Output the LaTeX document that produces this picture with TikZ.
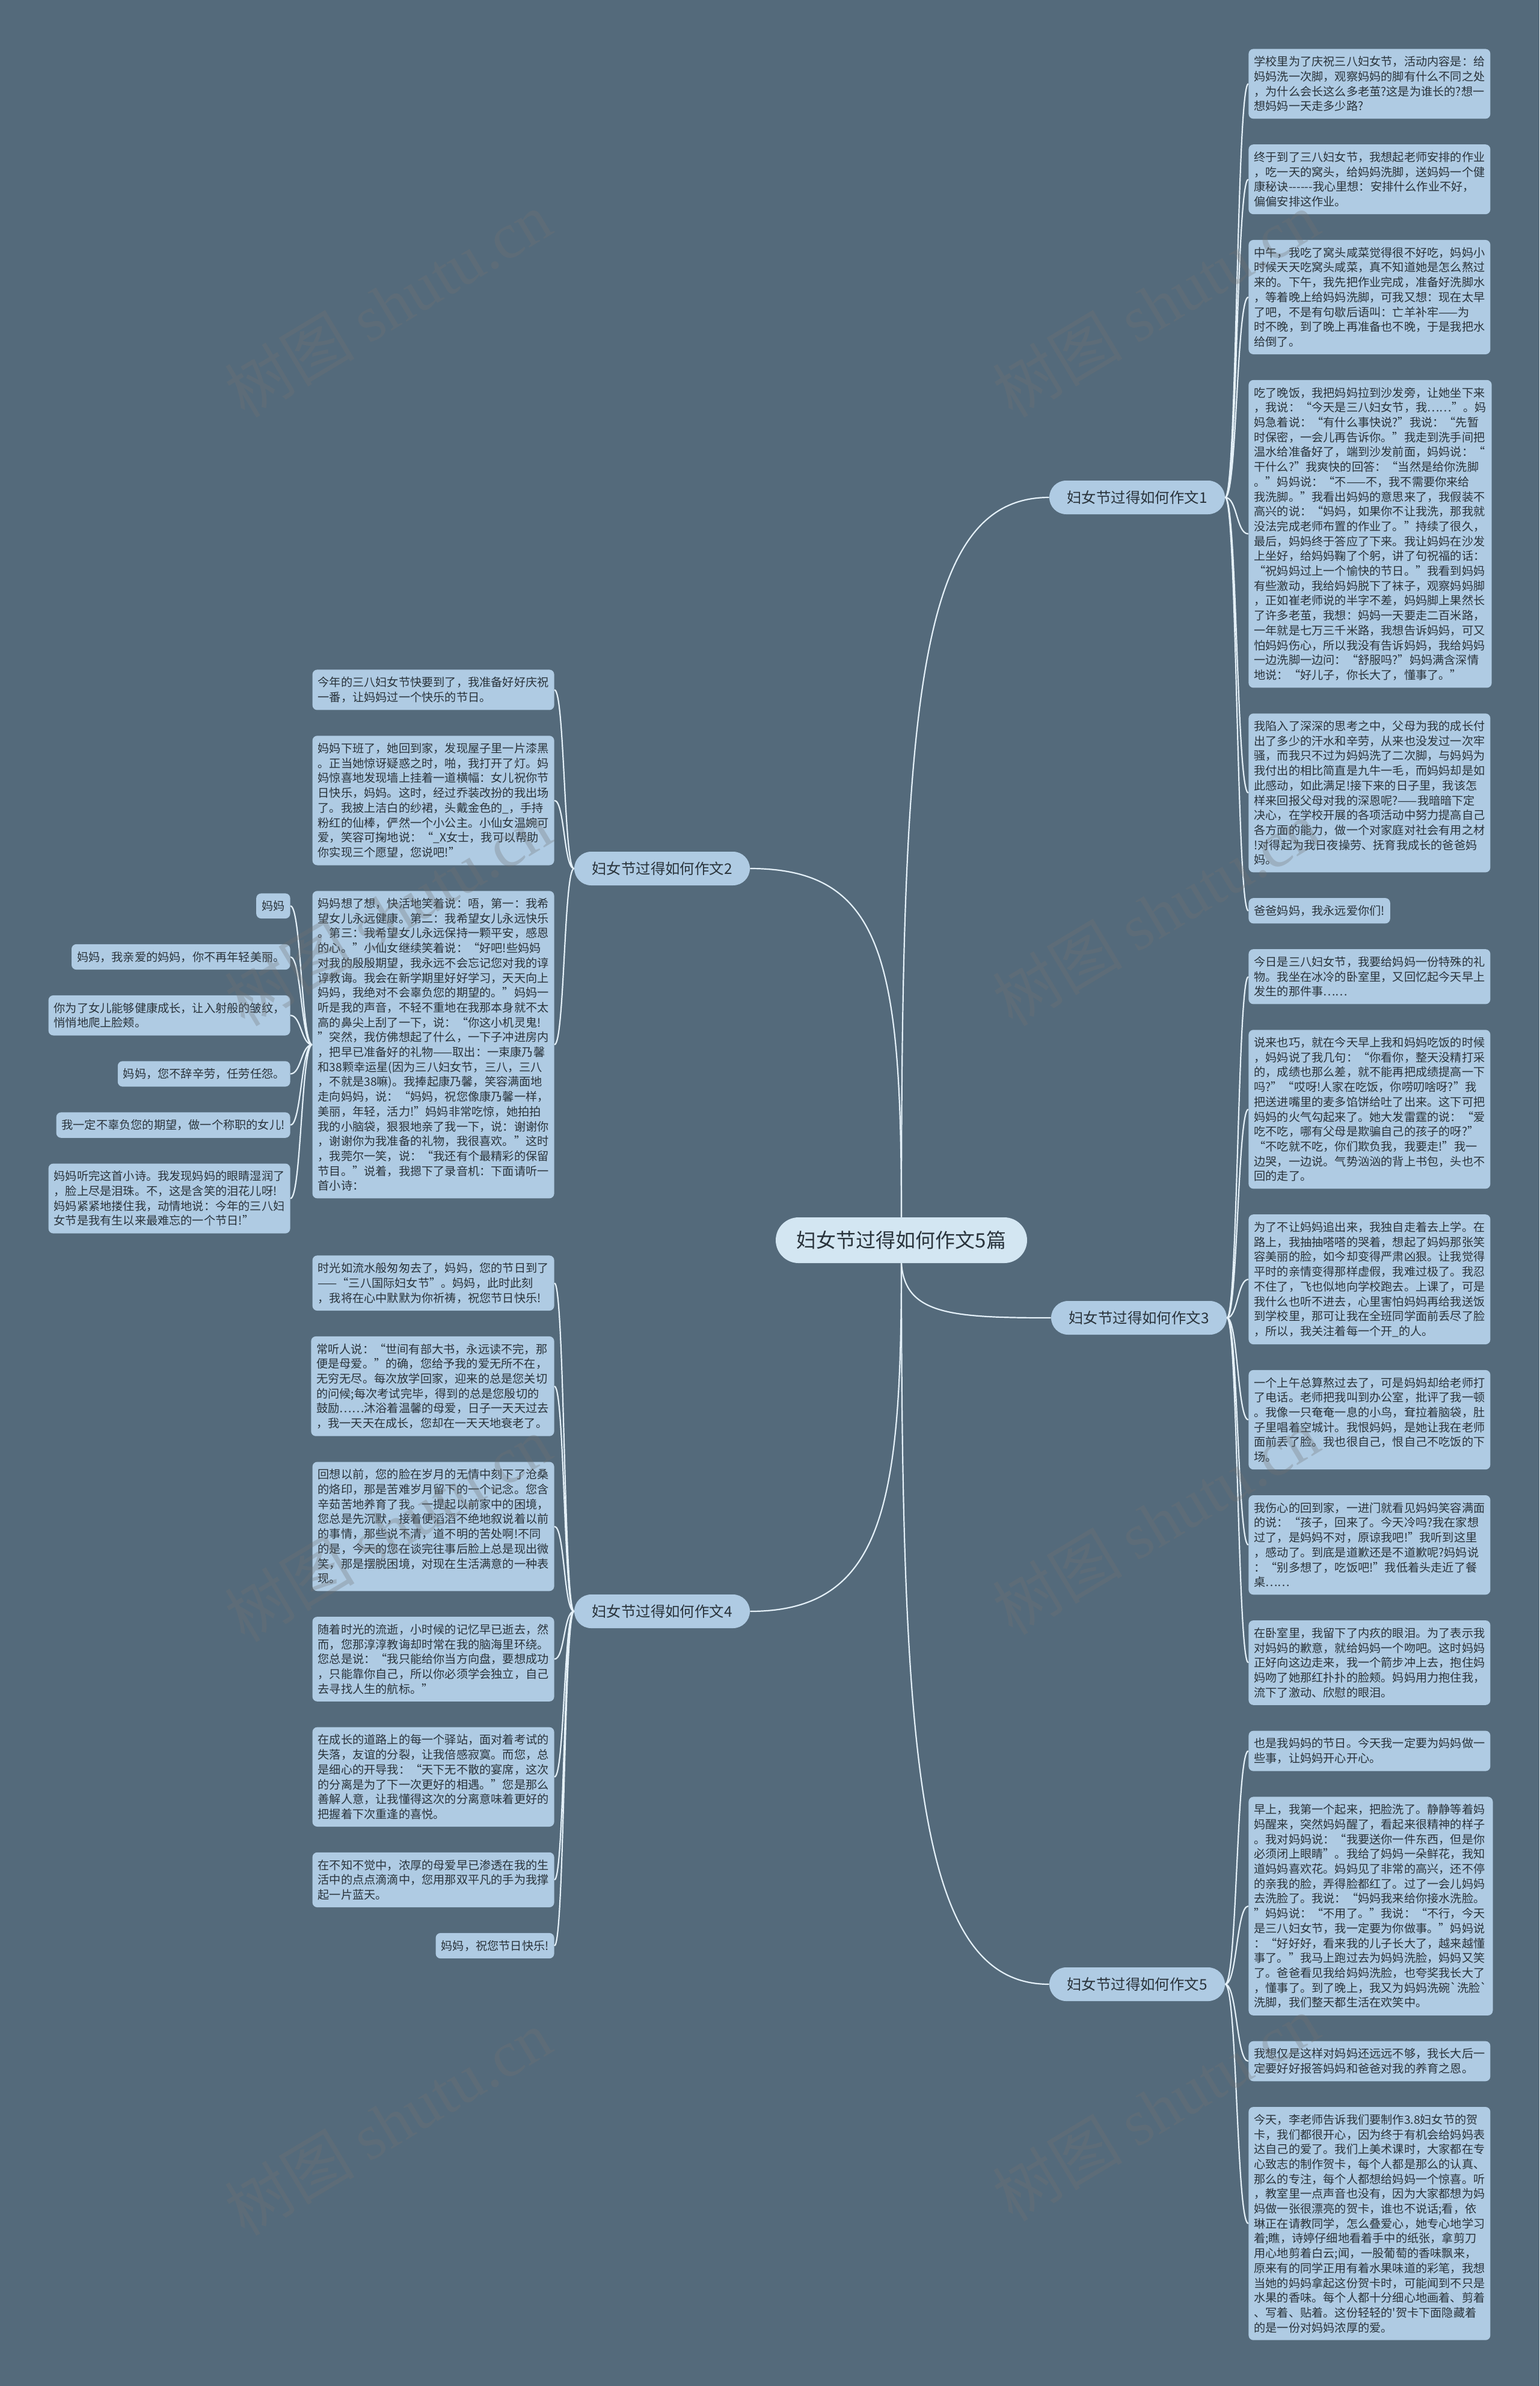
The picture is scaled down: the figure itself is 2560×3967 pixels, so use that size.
\documentclass[tikz,border=0pt]{standalone}
\usepackage{fontspec}
\setmainfont{Noto Sans CJK SC}[Ligatures=TeXOff]
\newfontfamily\wmlatin{Liberation Serif}
\usetikzlibrary{positioning}
\definecolor{slate}{HTML}{546A7B}
\definecolor{leafblue}{HTML}{AFCBE3}
\definecolor{coreblue}{HTML}{D3E6F2}
\definecolor{ink}{HTML}{29333B}
\definecolor{wirecol}{HTML}{E4F0F8}

\begin{document}
\begin{tikzpicture}[x=0.5pt,y=-0.5pt,node distance=21pt,
    leaf/.style={fill=leafblue,rounded corners=4pt,align=left,inner xsep=4.5pt,inner ysep=6pt,text=ink,font=\fontsize{9.6pt}{12.35pt}\selectfont},
    leafr/.style={leaf,anchor=north west},
    leafl/.style={leaf,anchor=north east},
    rnext/.style={below=of #1.south west,anchor=north west},
    lnext/.style={below=of #1.south east,anchor=north east},
    topic/.style={fill=leafblue,rounded corners=14pt,minimum width=146pt,minimum height=28pt,text=ink,font=\fontsize{12.2pt}{14pt}\selectfont},
    hub/.style={fill=coreblue,rounded corners=19pt,minimum width=209pt,minimum height=38pt,text=ink,font=\fontsize{16.5pt}{19pt}\selectfont},
    link/.style={draw=wirecol,line width=1.1pt},
    twig/.style={to path={.. controls +(#1,0) and +(-#1,0) .. (\tikztotarget)}},
    wmtext/.style={rotate=31,text=black!55,text opacity=0.3,font=\fontsize{54pt}{60pt}\selectfont}]
  \useasboundingbox (0,0) rectangle (2560,3967);
  \fill[slate] (0,0) rectangle (2560,3967);

  % centre and the five essays
  \node[hub] (c) at (1499,2062) {妇女节过得如何作文5篇};
  \node[topic] (b1) at (1891,827) {妇女节过得如何作文1};
  \node[topic] (b2) at (1101,1444) {妇女节过得如何作文2};
  \node[topic] (b3) at (1894,2191) {妇女节过得如何作文3};
  \node[topic] (b4) at (1101,2679) {妇女节过得如何作文4};
  \node[topic] (b5) at (1891,3299) {妇女节过得如何作文5};

  % essay 1
  \node[leafr] (r1a) at (2076,81) {学校里为了庆祝三八妇女节，活动内容是：给\\妈妈洗一次脚，观察妈妈的脚有什么不同之处\\，为什么会长这么多老茧?这是为谁长的?想一\\想妈妈一天走多少路?};
  \node[leaf,rnext=r1a] (r1b) {终于到了三八妇女节，我想起老师安排的作业\\，吃一天的窝头，给妈妈洗脚，送妈妈一个健\\康秘诀------我心里想：安排什么作业不好，\\偏偏安排这作业。};
  \node[leaf,rnext=r1b] (r1c) {中午，我吃了窝头咸菜觉得很不好吃，妈妈小\\时候天天吃窝头咸菜，真不知道她是怎么熬过\\来的。下午，我先把作业完成，准备好洗脚水\\，等着晚上给妈妈洗脚，可我又想：现在太早\\了吧，不是有句歇后语叫：亡羊补牢——为\\时不晚，到了晚上再准备也不晚，于是我把水\\给倒了。};
  \node[leaf,rnext=r1c] (r1d) {吃了晚饭，我把妈妈拉到沙发旁，让她坐下来\\，我说：“今天是三八妇女节，我……”。妈\\妈急着说：“有什么事快说?”我说：“先暂\\时保密，一会儿再告诉你。”我走到洗手间把\\温水给准备好了，端到沙发前面，妈妈说：“\\干什么?”我爽快的回答：“当然是给你洗脚\\。”妈妈说：“不——不，我不需要你来给\\我洗脚。”我看出妈妈的意思来了，我假装不\\高兴的说：“妈妈，如果你不让我洗，那我就\\没法完成老师布置的作业了。”持续了很久，\\最后，妈妈终于答应了下来。我让妈妈在沙发\\上坐好，给妈妈鞠了个躬，讲了句祝福的话：\\“祝妈妈过上一个愉快的节日。”我看到妈妈\\有些激动，我给妈妈脱下了袜子，观察妈妈脚\\，正如崔老师说的半字不差，妈妈脚上果然长\\了许多老茧，我想：妈妈一天要走二百米路，\\一年就是七万三千米路，我想告诉妈妈，可又\\怕妈妈伤心，所以我没有告诉妈妈，我给妈妈\\一边洗脚一边问：“舒服吗?”妈妈满含深情\\地说：“好儿子，你长大了，懂事了。”};
  \node[leaf,rnext=r1d] (r1e) {我陷入了深深的思考之中，父母为我的成长付\\出了多少的汗水和辛劳，从来也没发过一次牢\\骚，而我只不过为妈妈洗了二次脚，与妈妈为\\我付出的相比简直是九牛一毛，而妈妈却是如\\此感动，如此满足!接下来的日子里，我该怎\\样来回报父母对我的深恩呢?——我暗暗下定\\决心，在学校开展的各项活动中努力提高自己\\各方面的能力，做一个对家庭对社会有用之材\\!对得起为我日夜操劳、抚育我成长的爸爸妈\\妈。};
  \node[leaf,rnext=r1e] (r1f) {爸爸妈妈，我永远爱你们!};

  % essay 3
  \node[leaf,rnext=r1f] (r3a) {今日是三八妇女节，我要给妈妈一份特殊的礼\\物。我坐在冰冷的卧室里，又回忆起今天早上\\发生的那件事……};
  \node[leaf,rnext=r3a] (r3b) {说来也巧，就在今天早上我和妈妈吃饭的时候\\，妈妈说了我几句：“你看你，整天没精打采\\的，成绩也那么差，就不能再把成绩提高一下\\吗?”“哎呀!人家在吃饭，你唠叨啥呀?”我\\把送进嘴里的麦多馅饼给吐了出来。这下可把\\妈妈的火气勾起来了。她大发雷霆的说：“爱\\吃不吃，哪有父母是欺骗自己的孩子的呀?”\\“不吃就不吃，你们欺负我，我要走!”我一\\边哭，一边说。气势汹汹的背上书包，头也不\\回的走了。};
  \node[leaf,rnext=r3b] (r3c) {为了不让妈妈追出来，我独自走着去上学。在\\路上，我抽抽嗒嗒的哭着，想起了妈妈那张笑\\容美丽的脸，如今却变得严肃凶狠。让我觉得\\平时的亲情变得那样虚假，我难过极了。我忍\\不住了，飞也似地向学校跑去。上课了，可是\\我什么也听不进去，心里害怕妈妈再给我送饭\\到学校里，那可让我在全班同学面前丢尽了脸\\，所以，我关注着每一个开\_的人。};
  \node[leaf,rnext=r3c] (r3d) {一个上午总算熬过去了，可是妈妈却给老师打\\了电话。老师把我叫到办公室，批评了我一顿\\。我像一只奄奄一息的小鸟，耷拉着脑袋，肚\\子里唱着空城计。我恨妈妈，是她让我在老师\\面前丢了脸。我也很自己，恨自己不吃饭的下\\场。};
  \node[leaf,rnext=r3d] (r3e) {我伤心的回到家，一进门就看见妈妈笑容满面\\的说：“孩子，回来了。今天冷吗?我在家想\\过了，是妈妈不对，原谅我吧!”我听到这里\\，感动了。到底是道歉还是不道歉呢?妈妈说\\：“别多想了，吃饭吧!”我低着头走近了餐\\桌……};
  \node[leaf,rnext=r3e] (r3f) {在卧室里，我留下了内疚的眼泪。为了表示我\\对妈妈的歉意，就给妈妈一个吻吧。这时妈妈\\正好向这边走来，我一个箭步冲上去，抱住妈\\妈吻了她那红扑扑的脸颊。妈妈用力抱住我，\\流下了激动、欣慰的眼泪。};

  % essay 5
  \node[leaf,rnext=r3f] (r5a) {也是我妈妈的节日。今天我一定要为妈妈做一\\些事，让妈妈开心开心。};
  \node[leaf,rnext=r5a] (r5b) {早上，我第一个起来，把脸洗了。静静等着妈\\妈醒来，突然妈妈醒了，看起来很精神的样子\\。我对妈妈说：“我要送你一件东西，但是你\\必须闭上眼睛”。我给了妈妈一朵鲜花，我知\\道妈妈喜欢花。妈妈见了非常的高兴，还不停\\的亲我的脸，弄得脸都红了。过了一会儿妈妈\\去洗脸了。我说：“妈妈我来给你接水洗脸。\\”妈妈说：“不用了。”我说：“不行，今天\\是三八妇女节，我一定要为你做事。”妈妈说\\：“好好好，看来我的儿子长大了，越来越懂\\事了。”我马上跑过去为妈妈洗脸，妈妈又笑\\了。爸爸看见我给妈妈洗脸，也夸奖我长大了\\，懂事了。到了晚上，我又为妈妈洗碗`洗脸`\\洗脚，我们整天都生活在欢笑中。};
  \node[leaf,rnext=r5b] (r5c) {我想仅是这样对妈妈还远远不够，我长大后一\\定要好好报答妈妈和爸爸对我的养育之恩。};
  \node[leaf,rnext=r5c] (r5d) {今天，李老师告诉我们要制作3.8妇女节的贺\\卡，我们都很开心，因为终于有机会给妈妈表\\达自己的爱了。我们上美术课时，大家都在专\\心致志的制作贺卡，每个人都是那么的认真、\\那么的专注，每个人都想给妈妈一个惊喜。听\\，教室里一点声音也没有，因为大家都想为妈\\妈做一张很漂亮的贺卡，谁也不说话;看，依\\琳正在请教同学，怎么叠爱心，她专心地学习\\着;瞧，诗婷仔细地看着手中的纸张，拿剪刀\\用心地剪着白云;闻，一股葡萄的香味飘来，\\原来有的同学正用有着水果味道的彩笔，我想\\当她的妈妈拿起这份贺卡时，可能闻到不只是\\水果的香味。每个人都十分细心地画着、剪着\\、写着、贴着。这份轻轻的'贺卡下面隐藏着\\的是一份对妈妈浓厚的爱。};

  % essay 2
  \node[leafl] (l2a) at (922,1113) {今年的三八妇女节快要到了，我准备好好庆祝\\一番，让妈妈过一个快乐的节日。};
  \node[leaf,lnext=l2a] (l2b) {妈妈下班了，她回到家，发现屋子里一片漆黑\\。正当她惊讶疑惑之时，啪，我打开了灯。妈\\妈惊喜地发现墙上挂着一道横幅：女儿祝你节\\日快乐，妈妈。这时，经过乔装改扮的我出场\\了。我披上洁白的纱裙，头戴金色的\_，手持\\粉红的仙棒，俨然一个小公主。小仙女温婉可\\爱，笑容可掬地说：“\_X女士，我可以帮助\\你实现三个愿望，您说吧!”};
  \node[leaf,lnext=l2b] (l2c) {妈妈想了想，快活地笑着说：唔，第一：我希\\望女儿永远健康。第二：我希望女儿永远快乐\\。第三：我希望女儿永远保持一颗平安，感恩\\的心。”小仙女继续笑着说：“好吧!些妈妈\\对我的殷殷期望，我永远不会忘记您对我的谆\\谆教诲。我会在新学期里好好学习，天天向上\\妈妈，我绝对不会辜负您的期望的。”妈妈一\\听是我的声音，不轻不重地在我那本身就不太\\高的鼻尖上刮了一下，说：“你这小机灵鬼!\\”突然，我仿佛想起了什么，一下子冲进房内\\，把早已准备好的礼物——取出：一束康乃馨\\和38颗幸运星(因为三八妇女节，三八，三八\\，不就是38嘛)。我捧起康乃馨，笑容满面地\\走向妈妈，说：“妈妈，祝您像康乃馨一样，\\美丽，年轻，活力!”妈妈非常吃惊，她拍拍\\我的小脑袋，狠狠地亲了我一下，说：谢谢你\\，谢谢你为我准备的礼物，我很喜欢。”这时\\，我莞尔一笑，说：“我还有个最精彩的保留\\节目。”说着，我摁下了录音机：下面请听一\\首小诗：};

  % the little poem
  \node[leafl] (f1) at (483,1485) {妈妈};
  \node[leaf,lnext=f1] (f2) {妈妈，我亲爱的妈妈，你不再年轻美丽。};
  \node[leaf,lnext=f2] (f3) {你为了女儿能够健康成长，让入射般的皱纹，\\悄悄地爬上脸颊。};
  \node[leaf,lnext=f3] (f4) {妈妈，您不辞辛劳，任劳任怨。};
  \node[leaf,lnext=f4] (f5) {我一定不辜负您的期望，做一个称职的女儿!};
  \node[leaf,lnext=f5] (f6) {妈妈听完这首小诗。我发现妈妈的眼睛湿润了\\，脸上尽是泪珠。不，这是含笑的泪花儿呀!\\妈妈紧紧地搂住我，动情地说：今年的三八妇\\女节是我有生以来最难忘的一个节日!”};

  % essay 4
  \node[leafl] (l4a) at (922,2087) {时光如流水般匆匆去了，妈妈，您的节日到了\\——“三八国际妇女节”。妈妈，此时此刻\\，我将在心中默默为你祈祷，祝您节日快乐!};
  \node[leaf,lnext=l4a] (l4b) {常听人说：“世间有部大书，永远读不完，那\\便是母爱。”的确，您给予我的爱无所不在，\\无穷无尽。每次放学回家，迎来的总是您关切\\的问候;每次考试完毕，得到的总是您殷切的\\鼓励……沐浴着温馨的母爱，日子一天天过去\\，我一天天在成长，您却在一天天地衰老了。};
  \node[leaf,lnext=l4b] (l4c) {回想以前，您的脸在岁月的无情中刻下了沧桑\\的烙印，那是苦难岁月留下的一个记念。您含\\辛茹苦地养育了我。一提起以前家中的困境，\\您总是先沉默，接着便滔滔不绝地叙说着以前\\的事情，那些说不清，道不明的苦处啊!不同\\的是，今天的您在谈完往事后脸上总是现出微\\笑，那是摆脱困境，对现在生活满意的一种表\\现。};
  \node[leaf,lnext=l4c] (l4d) {随着时光的流逝，小时候的记忆早已逝去，然\\而，您那淳淳教诲却时常在我的脑海里环绕。\\您总是说：“我只能给你当方向盘，要想成功\\，只能靠你自己，所以你必须学会独立，自己\\去寻找人生的航标。”};
  \node[leaf,lnext=l4d] (l4e) {在成长的道路上的每一个驿站，面对着考试的\\失落，友谊的分裂，让我倍感寂寞。而您，总\\是细心的开导我：“天下无不散的宴席，这次\\的分离是为了下一次更好的相遇。”您是那么\\善解人意，让我懂得这次的分离意味着更好的\\把握着下次重逢的喜悦。};
  \node[leaf,lnext=l4e] (l4f) {在不知不觉中，浓厚的母爱早已渗透在我的生\\活中的点点滴滴中，您用那双平凡的手为我撑\\起一片蓝天。};
  \node[leaf,lnext=l4f] (l4g) {妈妈，祝您节日快乐!};

  % centre to topics
  \draw[link] (c.north) .. controls (1499,1150) and (1530,827) .. (b1.west);
  \draw[link] (c.north) .. controls (1499,1600) and (1470,1444) .. (b2.east);
  \draw[link] (c.south) .. controls (1505,2185) and (1580,2191) .. (b3.west);
  \draw[link] (c.south) .. controls (1499,2500) and (1470,2679) .. (b4.east);
  \draw[link] (c.south) .. controls (1499,2950) and (1530,3299) .. (b5.west);

  % topics to leaves
  \draw[link] (b1.east) to[twig=20] (r1a.west) (b1.east) to[twig=20] (r1b.west)
    (b1.east) to[twig=20] (r1c.west) (b1.east) to[twig=20] (r1d.west)
    (b1.east) to[twig=20] (r1e.west) (b1.east) to[twig=20] (r1f.west);
  \draw[link] (b3.east) to[twig=18] (r3a.west) (b3.east) to[twig=18] (r3b.west)
    (b3.east) to[twig=18] (r3c.west) (b3.east) to[twig=18] (r3d.west)
    (b3.east) to[twig=18] (r3e.west) (b3.east) to[twig=18] (r3f.west);
  \draw[link] (b5.east) to[twig=20] (r5a.west) (b5.east) to[twig=20] (r5b.west)
    (b5.east) to[twig=20] (r5c.west) (b5.east) to[twig=20] (r5d.west);
  \draw[link] (b2.west) to[twig=-17] (l2a.east) (b2.west) to[twig=-17] (l2b.east)
    (b2.west) to[twig=-17] (l2c.east);
  \draw[link] (b4.west) to[twig=-17] (l4a.east) (b4.west) to[twig=-17] (l4b.east)
    (b4.west) to[twig=-17] (l4c.east) (b4.west) to[twig=-17] (l4d.east)
    (b4.west) to[twig=-17] (l4e.east) (b4.west) to[twig=-17] (l4f.east)
    (b4.west) to[twig=-17] (l4g.east);
  \draw[link] (l2c.west) to[twig=-18] (f1.east) (l2c.west) to[twig=-18] (f2.east)
    (l2c.west) to[twig=-18] (f3.east) (l2c.west) to[twig=-18] (f4.east)
    (l2c.west) to[twig=-18] (f5.east) (l2c.west) to[twig=-18] (f6.east);

  % watermark
  \foreach \wx/\wy [count=\i] in {645/506,1922/506,645/1518,1922/1518,645/2542,1922/2530,645/3529,1922/3505}
    \node[wmtext] (wm\i) at (\wx,\wy) {树图 {\wmlatin shutu.cn}};
\end{tikzpicture}
\end{document}
